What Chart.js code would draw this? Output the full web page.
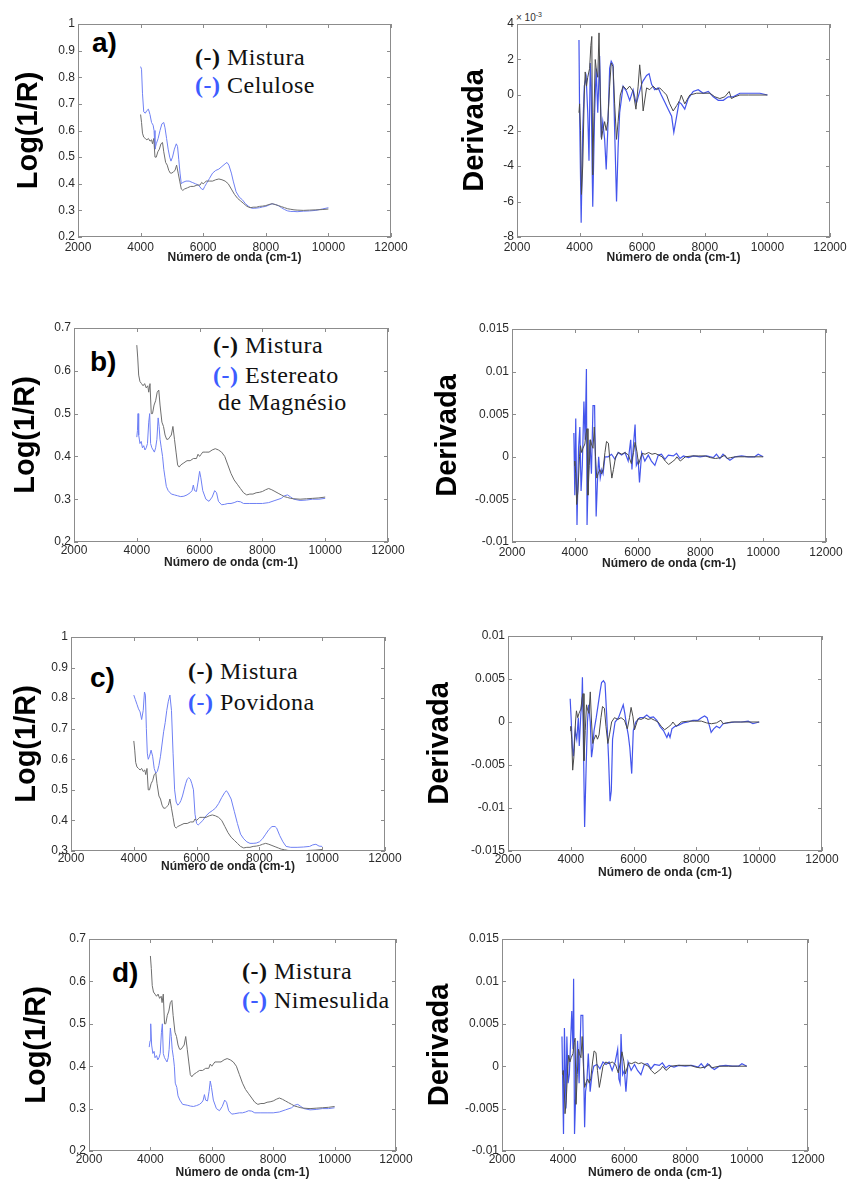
<!DOCTYPE html>
<html><head><meta charset="utf-8">
<script src="https://cdn.jsdelivr.net/npm/chart.js@4/dist/chart.umd.min.js"></script>
<style>
html,body{margin:0;padding:0;background:#fff;}
body{width:848px;height:1180px;position:relative;overflow:hidden;font-family:"Liberation Sans",Arial,sans-serif;}
canvas{position:absolute;}
.lbl{position:absolute;font:bold 28px "Liberation Sans",Arial,sans-serif;line-height:28px;color:#000;}
.leg{position:absolute;font:24px "Liberation Serif","Times New Roman",serif;line-height:24px;color:#111;white-space:nowrap;letter-spacing:0.5px;}
.leg b{font-weight:bold;}
.leg .bl{color:#3d5cff;}
.exp{position:absolute;font:10px "Liberation Sans",Arial,sans-serif;color:#333;white-space:nowrap;}
.exp sup{font-size:7px;}
</style></head><body>

<div class="lbl" style="left:92px;top:29px">a)</div>
<div class="lbl" style="left:90px;top:348px">b)</div>
<div class="lbl" style="left:90px;top:664px">c)</div>
<div class="lbl" style="left:112px;top:959px">d)</div>

<div class="leg" style="left:195px;top:45px"><b>(-)</b> Mistura</div>
<div class="leg" style="left:195px;top:73px"><b class="bl">(-)</b> Celulose</div>

<div class="leg" style="left:213px;top:333px"><b>(-)</b> Mistura</div>
<div class="leg" style="left:213px;top:363px"><b class="bl">(-)</b> Estereato</div>
<div class="leg" style="left:218px;top:390px">de Magnésio</div>

<div class="leg" style="left:188px;top:659px"><b>(-)</b> Mistura</div>
<div class="leg" style="left:188px;top:690px"><b class="bl">(-)</b> Povidona</div>

<div class="leg" style="left:242px;top:959px"><b>(-)</b> Mistura</div>
<div class="leg" style="left:242px;top:988px"><b class="bl">(-)</b> Nimesulida</div>

<div class="exp" style="left:516px;top:11px">× 10<sup>-3</sup></div>

<script>
// ---------- tick values / labels ----------
const xTickValues = [2000, 4000, 6000, 8000, 10000, 12000];
const xTickLabels = ['2000', '4000', '6000', '8000', '10000', '12000'];
const logTicksWide = [0.2, 0.3, 0.4, 0.5, 0.6, 0.7, 0.8, 0.9, 1.0];
const logLabelsWide = ['0.2', '0.3', '0.4', '0.5', '0.6', '0.7', '0.8', '0.9', '1'];
const logTicksNarrow = [0.2, 0.3, 0.4, 0.5, 0.6, 0.7];
const logLabelsNarrow = ['0.2', '0.3', '0.4', '0.5', '0.6', '0.7'];
const logTicksC = [0.3, 0.4, 0.5, 0.6, 0.7, 0.8, 0.9, 1.0];
const logLabelsC = ['0.3', '0.4', '0.5', '0.6', '0.7', '0.8', '0.9', '1'];
// derivative values are stored in units of 10^-3
const derTicksA = [-8, -6, -4, -2, 0, 2, 4];
const derLabelsA = ['-8', '-6', '-4', '-2', '0', '2', '4'];
const derTicksB = [-10, -5, 0, 5, 10, 15];
const derLabelsB = ['-0.01', '-0.005', '0', '0.005', '0.01', '0.015'];
const derTicksC = [-15, -10, -5, 0, 5, 10];
const derLabelsC = ['-0.015', '-0.01', '-0.005', '0', '0.005', '0.01'];

// ---------- series: [wavenumber, value] ----------
const misturaLog = [[4000,0.66],[4030,0.63],[4060,0.59],[4100,0.575],[4150,0.57],[4200,0.565],[4250,0.57],[4300,0.56],[4350,0.565],[4380,0.55],[4420,0.57],[4460,0.50],[4500,0.50],[4550,0.52],[4600,0.53],[4650,0.55],[4700,0.555],[4740,0.52],[4800,0.48],[4850,0.47],[4900,0.45],[4950,0.44],[5000,0.44],[5050,0.445],[5100,0.45],[5150,0.47],[5200,0.44],[5250,0.41],[5300,0.38],[5350,0.375],[5400,0.38],[5500,0.385],[5600,0.39],[5700,0.39],[5800,0.395],[5900,0.395],[5950,0.405],[6000,0.40],[6050,0.405],[6100,0.41],[6200,0.41],[6300,0.41],[6400,0.415],[6500,0.418],[6600,0.415],[6700,0.41],[6800,0.40],[6900,0.38],[7000,0.36],[7100,0.345],[7200,0.335],[7300,0.325],[7400,0.315],[7500,0.31],[7600,0.312],[7700,0.312],[7800,0.315],[7900,0.316],[8000,0.318],[8100,0.322],[8200,0.325],[8300,0.322],[8400,0.318],[8500,0.314],[8600,0.31],[8700,0.306],[8800,0.304],[8900,0.302],[9000,0.301],[9200,0.300],[9400,0.301],[9600,0.302],[9800,0.303],[10000,0.305]];

const celuloseLog = [[4000,0.84],[4030,0.83],[4060,0.74],[4100,0.67],[4150,0.665],[4200,0.675],[4250,0.68],[4300,0.66],[4350,0.63],[4400,0.62],[4430,0.60],[4460,0.53],[4500,0.55],[4560,0.57],[4620,0.60],[4680,0.625],[4740,0.63],[4780,0.61],[4830,0.57],[4880,0.53],[4930,0.50],[4970,0.485],[5020,0.50],[5080,0.53],[5140,0.55],[5180,0.54],[5220,0.49],[5260,0.44],[5300,0.40],[5350,0.405],[5450,0.41],[5550,0.41],[5650,0.405],[5750,0.40],[5850,0.395],[5950,0.38],[6000,0.378],[6050,0.39],[6100,0.40],[6200,0.42],[6300,0.44],[6400,0.45],[6500,0.455],[6600,0.465],[6700,0.475],[6760,0.48],[6820,0.47],[6900,0.44],[6960,0.41],[7050,0.37],[7150,0.35],[7250,0.34],[7350,0.325],[7450,0.315],[7550,0.308],[7650,0.308],[7800,0.31],[7900,0.313],[8000,0.315],[8100,0.32],[8200,0.325],[8300,0.322],[8400,0.318],[8500,0.31],[8600,0.303],[8700,0.298],[8800,0.296],[8900,0.296],[9000,0.295],[9200,0.297],[9400,0.298],[9600,0.30],[9800,0.305],[10000,0.31]];

const estereatoLog = [[4000,0.445],[4020,0.46],[4040,0.50],[4060,0.45],[4100,0.43],[4140,0.435],[4180,0.42],[4220,0.425],[4260,0.415],[4300,0.42],[4340,0.43],[4380,0.48],[4410,0.50],[4440,0.43],[4480,0.42],[4520,0.415],[4560,0.41],[4600,0.42],[4640,0.44],[4680,0.49],[4710,0.47],[4740,0.44],[4780,0.42],[4820,0.40],[4860,0.37],[4900,0.35],[4940,0.33],[5000,0.32],[5100,0.312],[5200,0.31],[5300,0.308],[5400,0.306],[5500,0.307],[5600,0.31],[5700,0.315],[5760,0.32],[5800,0.333],[5840,0.32],[5900,0.318],[5950,0.34],[6000,0.365],[6040,0.35],[6100,0.32],[6200,0.30],[6300,0.295],[6400,0.305],[6480,0.32],[6540,0.315],[6600,0.295],[6700,0.287],[6800,0.288],[6900,0.29],[7000,0.29],[7100,0.292],[7200,0.295],[7300,0.294],[7400,0.29],[7600,0.29],[7800,0.29],[8000,0.29],[8200,0.292],[8400,0.297],[8600,0.302],[8700,0.308],[8800,0.31],[8900,0.305],[9000,0.30],[9200,0.297],[9400,0.298],[9600,0.30],[9800,0.30],[10000,0.302]];

const povidonaLog = [[4000,0.81],[4050,0.795],[4100,0.78],[4150,0.765],[4200,0.755],[4250,0.73],[4300,0.76],[4340,0.82],[4370,0.81],[4400,0.70],[4430,0.62],[4460,0.60],[4500,0.61],[4550,0.63],[4600,0.61],[4650,0.57],[4700,0.555],[4750,0.56],[4800,0.58],[4850,0.61],[4900,0.65],[4950,0.69],[5000,0.72],[5050,0.76],[5100,0.79],[5150,0.81],[5200,0.76],[5250,0.62],[5300,0.50],[5350,0.46],[5400,0.45],[5450,0.455],[5500,0.465],[5550,0.48],[5600,0.50],[5650,0.52],[5700,0.535],[5750,0.54],[5800,0.535],[5850,0.52],[5900,0.50],[5950,0.42],[6000,0.39],[6050,0.385],[6100,0.39],[6200,0.40],[6300,0.415],[6400,0.425],[6500,0.432],[6600,0.44],[6700,0.455],[6800,0.475],[6900,0.492],[6950,0.497],[7000,0.49],[7100,0.47],[7200,0.43],[7300,0.39],[7400,0.355],[7500,0.34],[7600,0.33],[7700,0.325],[7800,0.325],[7900,0.326],[8000,0.33],[8100,0.34],[8200,0.355],[8300,0.37],[8400,0.38],[8500,0.38],[8550,0.375],[8650,0.35],[8750,0.33],[8850,0.315],[9000,0.312],[9200,0.312],[9400,0.313],[9600,0.315],[9700,0.32],[9800,0.322],[9900,0.316],[10000,0.315]];

const nimesulidaLog = [[3960,0.445],[3990,0.46],[4010,0.50],[4040,0.45],[4080,0.43],[4120,0.435],[4150,0.42],[4200,0.425],[4240,0.415],[4280,0.42],[4320,0.43],[4360,0.48],[4390,0.50],[4420,0.43],[4460,0.42],[4500,0.415],[4540,0.41],[4580,0.42],[4610,0.44],[4650,0.49],[4680,0.47],[4710,0.44],[4750,0.42],[4780,0.40],[4810,0.36],[4860,0.35],[4900,0.33],[4960,0.32],[5050,0.31],[5200,0.308],[5300,0.306],[5400,0.305],[5500,0.307],[5600,0.31],[5680,0.315],[5720,0.32],[5760,0.333],[5800,0.32],[5860,0.318],[5910,0.34],[5950,0.365],[5990,0.35],[6050,0.32],[6150,0.30],[6250,0.295],[6340,0.305],[6420,0.32],[6480,0.315],[6550,0.295],[6650,0.287],[6750,0.288],[6900,0.29],[7000,0.29],[7100,0.292],[7200,0.295],[7300,0.294],[7400,0.29],[7600,0.29],[7800,0.29],[8000,0.29],[8200,0.292],[8400,0.297],[8600,0.302],[8700,0.308],[8800,0.31],[8900,0.305],[9000,0.30],[9200,0.297],[9400,0.298],[9600,0.30],[9800,0.30],[10000,0.302]];

// derivatives (x 10^-3)
const misturaDer = [[3980,-1.0],[4000,-0.5],[4030,-2],[4060,-5.6],[4100,-4],[4150,0],[4180,1.3],[4220,0.5],[4260,1],[4320,1.5],[4360,2.8],[4390,3.3],[4420,-4.5],[4460,-1],[4500,2],[4530,1.5],[4580,1],[4620,3.5],[4660,0],[4700,-2.5],[4740,-2],[4800,-1.5],[4850,-2],[4900,-1.5],[4960,0.5],[5010,1.8],[5070,1.6],[5120,-0.5],[5180,-2.5],[5230,-1.5],[5300,0],[5390,0.5],[5500,0.3],[5600,0.5],[5710,0.2],[5800,-0.8],[5870,0.5],[5920,1.7],[5980,0.6],[6030,-0.9],[6140,0.4],[6240,0.3],[6350,0.5],[6460,0.3],[6560,0.4],[6670,0.2],[6780,0],[6880,-0.5],[6990,-0.9],[7100,-0.6],[7200,-0.3],[7250,0],[7360,-0.5],[7520,0],[7740,0.1],[7950,0.1],[8160,0.1],[8320,-0.1],[8480,-0.2],[8640,-0.1],[8780,0.2],[8850,-0.2],[8960,-0.1],[9120,0],[9400,0],[9700,0],[10000,0]];

const celuloseDer = [[3980,3.1],[4000,-1],[4050,-7.2],[4100,-2],[4150,0.5],[4210,1.0],[4260,-1],[4300,-3.7],[4340,1.8],[4370,0.5],[4400,-4],[4420,-6.3],[4480,-1],[4530,1.5],[4580,-1],[4640,2.2],[4690,-2.4],[4740,-1.5],[4800,-2.5],[4850,-4.2],[4900,-2],[4960,1.5],[5010,1.9],[5070,1.7],[5120,-2],[5180,-6.0],[5230,-3],[5280,-1],[5390,0.5],[5500,0.2],[5600,-0.3],[5710,0.3],[5810,-0.5],[5920,0.2],[5980,0.6],[6030,0.8],[6140,1.1],[6220,1.2],[6300,0.6],[6400,0.3],[6510,0.4],[6610,0],[6720,-0.4],[6830,-0.8],[6940,-1.2],[7010,-2.1],[7100,-1.2],[7180,-0.4],[7250,-0.5],[7360,-0.8],[7470,-0.2],[7630,0.2],[7790,0.3],[7950,0.1],[8110,0.2],[8270,-0.1],[8430,-0.3],[8590,-0.3],[8750,-0.1],[8910,-0.1],[9120,0.1],[9330,0.1],[9540,0.1],[9760,0.1],[10000,0]];

const estereatoDer = [[3970,2.8],[4000,-4.5],[4030,4.5],[4070,-8],[4120,1],[4160,3.5],[4200,-4],[4240,-1],[4290,6.5],[4330,2],[4370,10.3],[4390,-8],[4430,-2],[4480,2],[4530,-2],[4580,6],[4630,6],[4680,-7],[4720,-3],[4760,0],[4810,-2.5],[4860,-1.5],[4900,-2],[4960,0],[5060,0],[5170,0.3],[5280,-0.3],[5380,0.5],[5490,0.2],[5600,0.5],[5700,-0.5],[5780,2],[5820,-1.5],[5860,1],[5920,3.8],[5960,-1],[6020,-0.5],[6060,-3],[6130,0.5],[6230,-0.5],[6340,0.2],[6440,-0.5],[6550,-1],[6660,0.2],[6760,0.3],[6870,-0.3],[6980,0.2],[7140,0.1],[7240,0.4],[7350,-0.2],[7460,0.1],[7620,-0.1],[7780,0.1],[7990,0],[8200,0.1],[8410,-0.1],[8510,0.3],[8620,-0.2],[8720,0.3],[8830,-0.1],[8940,-0.4],[9100,0],[9310,0.1],[9520,0],[9730,0],[9840,0.3],[10000,0]];

const povidonaDer = [[3980,2.7],[4010,0.5],[4050,-3],[4080,-4],[4140,-1],[4190,-2],[4240,0.5],[4270,-2.8],[4320,1],[4350,2],[4370,5.2],[4400,-2],[4440,-12.2],[4490,-5],[4530,0],[4570,2],[4620,0],[4660,-4.1],[4700,-3],[4740,-1],[4810,0.5],[4870,2],[4930,3.5],[4980,4.6],[5040,4.8],[5090,4.5],[5140,1],[5200,-4],[5250,-9.2],[5290,-8],[5330,-2],[5410,0],[5520,0.5],[5620,1.5],[5670,2],[5720,1],[5780,-0.5],[5830,-1.5],[5880,-3],[5940,-6],[5990,-1],[6070,0],[6200,0.5],[6310,0.5],[6420,0.8],[6520,0.5],[6630,0.6],[6740,0.2],[6840,-0.5],[6950,-1],[7060,-1.8],[7110,-1.3],[7160,-1.8],[7220,-0.8],[7320,-0.5],[7420,-0.4],[7580,-0.1],[7740,0],[7890,0.2],[8050,0.2],[8160,0.5],[8260,0.7],[8340,0.5],[8420,-0.5],[8470,-1.2],[8550,-0.8],[8640,-0.5],[8740,-0.7],[8850,-0.2],[9000,-0.1],[9220,0],[9440,0],[9650,0.1],[9800,-0.2],[10000,0]];

const nimesulidaDer = [[3960,3.5],[4010,-8],[4040,4.5],[4090,-5],[4120,3.5],[4160,-2],[4200,-1],[4280,6.5],[4320,2],[4340,10.3],[4370,-8],[4420,-2],[4470,3],[4520,-2],[4580,6],[4640,6],[4700,-7.2],[4730,-3],[4770,-2],[4820,1.5],[4880,-3],[4940,-1],[5000,0],[5100,0.2],[5200,-0.3],[5300,0.5],[5400,0.2],[5500,0.5],[5600,-0.5],[5700,0.5],[5780,2],[5820,-1.5],[5860,-2],[5890,3.8],[5940,-1],[6000,-0.5],[6050,-3],[6120,0.5],[6220,-0.5],[6330,0.2],[6430,-0.5],[6540,-1],[6650,0.2],[6760,0.3],[6870,-0.3],[6980,0.2],[7140,0.1],[7240,0.4],[7350,-0.2],[7460,0.1],[7620,-0.1],[7780,0.1],[7990,0],[8200,0.1],[8410,-0.1],[8510,0.3],[8620,-0.2],[8720,0.3],[8830,-0.1],[8940,-0.4],[9100,0],[9310,0.1],[9520,0],[9730,0],[9840,0.3],[10000,0]];

// ---------- layout (chart-area rectangles in page pixels) ----------
const panels = [
  {L:78, T:24, R:391, B:237, yMin:0.2, yMax:1, yt:logTicksWide, yl:logLabelsWide, title:'Log(1/R)', yOff:49, xOff:21, tOff:10, black:misturaLog, blue:celuloseLog, kind:'log'},
  {L:517, T:24, R:830, B:237, yMin:-8, yMax:4, yt:derTicksA, yl:derLabelsA, title:'Derivada', yOff:42, xOff:21, tOff:10, black:misturaDer, blue:celuloseDer, kind:'der'},
  {L:74, T:328, R:388, B:542, yMin:0.2, yMax:0.7, yt:logTicksNarrow, yl:logLabelsNarrow, title:'Log(1/R)', yOff:48, xOff:21, tOff:8, black:misturaLog, blue:estereatoLog, kind:'log'},
  {L:512, T:329, R:826, B:542, yMin:-10, yMax:15, yt:derTicksB, yl:derLabelsB, title:'Derivada', yOff:64, xOff:22, tOff:10, black:misturaDer, blue:estereatoDer, kind:'der'},
  {L:71, T:637, R:385, B:851, yMin:0.3, yMax:1, yt:logTicksC, yl:logLabelsC, title:'Log(1/R)', yOff:44, xOff:16, tOff:7, black:misturaLog, blue:povidonaLog, kind:'log'},
  {L:508, T:636, R:822, B:851, yMin:-15, yMax:10, yt:derTicksC, yl:derLabelsC, title:'Derivada', yOff:68, xOff:22, tOff:8, black:misturaDer, blue:povidonaDer, kind:'der'},
  {L:89, T:939, R:396, B:1151, yMin:0.2, yMax:0.7, yt:logTicksNarrow, yl:logLabelsNarrow, title:'Log(1/R)', yOff:52, xOff:22, tOff:8, black:misturaLog, blue:nimesulidaLog, kind:'log'},
  {L:502, T:939, R:808, B:1151, yMin:-10, yMax:15, yt:derTicksB, yl:derLabelsB, title:'Derivada', yOff:62, xOff:22, tOff:8, black:misturaDer, blue:nimesulidaDer, kind:'der'}
];

const YW = 110, XH = 40, PT = 12, PR = 24;
const COLORS = {
  log: {black: '#6e6e6e', blue: '#6f80f4'},
  der: {black: '#4a4a4a', blue: '#4455ec'}
};
const BOX = '#8c8c8c';

const boxPlugin = {
  id: 'matlabBox',
  afterDatasetsDraw(chart) {
    const {ctx, chartArea: a, scales} = chart;
    const x = scales.x, y = scales.y;
    ctx.save();
    ctx.strokeStyle = BOX;
    ctx.lineWidth = 1;
    ctx.strokeRect(Math.round(a.left) + 0.5, Math.round(a.top) + 0.5,
                   Math.round(a.right - a.left) - 1, Math.round(a.bottom - a.top) - 1);
    ctx.beginPath();
    x.ticks.forEach(t => {
      const px = Math.round(x.getPixelForValue(t.value)) + 0.5;
      ctx.moveTo(px, a.bottom); ctx.lineTo(px, a.bottom - 4);
      ctx.moveTo(px, a.top); ctx.lineTo(px, a.top + 4);
    });
    y.ticks.forEach(t => {
      const py = Math.round(y.getPixelForValue(t.value)) + 0.5;
      ctx.moveTo(a.left, py); ctx.lineTo(a.left + 4, py);
      ctx.moveTo(a.right, py); ctx.lineTo(a.right - 4, py);
    });
    ctx.stroke();
    ctx.restore();
  }
};

const toPts = arr => arr.map(p => ({x: p[0], y: p[1]}));

panels.forEach(p => {
  const c = document.createElement('canvas');
  const w = (p.R - p.L) + YW + PR, h = (p.B - p.T) + PT + XH;
  c.width = w; c.height = h;
  c.style.width = w + 'px'; c.style.height = h + 'px';
  c.style.left = (p.L - YW) + 'px'; c.style.top = (p.T - PT) + 'px';
  document.body.appendChild(c);
  const col = COLORS[p.kind];
  new Chart(c, {
    type: 'line',
    data: {
      datasets: [
        {data: toPts(p.black), borderColor: col.black, borderWidth: 1, pointRadius: 0, tension: 0, fill: false},
        {data: toPts(p.blue), borderColor: col.blue, borderWidth: p.kind === 'der' ? 1.2 : 1, pointRadius: 0, tension: 0, fill: false}
      ]
    },
    options: {
      responsive: false, animation: false, devicePixelRatio: 1,
      layout: {padding: {left: 0, top: PT, right: PR, bottom: 0}},
      plugins: {legend: {display: false}, tooltip: {enabled: false}},
      scales: {
        x: {
          type: 'linear', min: 2000, max: 12000,
          grid: {display: false, drawTicks: false}, border: {display: false},
          afterBuildTicks: s => { s.ticks = xTickValues.map(v => ({value: v})); },
          afterFit: s => { s.height = XH; },
          ticks: {autoSkip: false, maxRotation: 0, padding: Math.max(0, p.tOff - 7),
                  color: '#2a2a2a', font: {family: '"Liberation Sans", Arial, sans-serif', size: 12},
                  callback: (v, i) => xTickLabels[i]},
          title: {display: true, text: 'Número de onda (cm-1)', color: '#222',
                  font: {family: '"Liberation Sans", Arial, sans-serif', size: 12, weight: 'bold', lineHeight: 1.2},
                  padding: {top: 0, bottom: XH - p.xOff - 7.2}}
        },
        y: {
          type: 'linear', min: p.yMin, max: p.yMax,
          grid: {display: false, drawTicks: false}, border: {display: false},
          afterBuildTicks: s => { s.ticks = p.yt.map(v => ({value: v})); },
          afterFit: s => { s.width = YW; },
          ticks: {autoSkip: false, padding: 3, color: '#2a2a2a',
                  font: {family: '"Liberation Sans", Arial, sans-serif', size: 12},
                  callback: (v, i) => p.yl[i]},
          title: {display: true, text: p.title, color: '#000',
                  font: {family: '"Liberation Sans", Arial, sans-serif', size: 29, weight: 'bold', lineHeight: 1},
                  padding: {top: YW - p.yOff - 14.5, bottom: 0}}
        }
      }
    },
    plugins: [boxPlugin]
  });
});
</script>
</body></html>
